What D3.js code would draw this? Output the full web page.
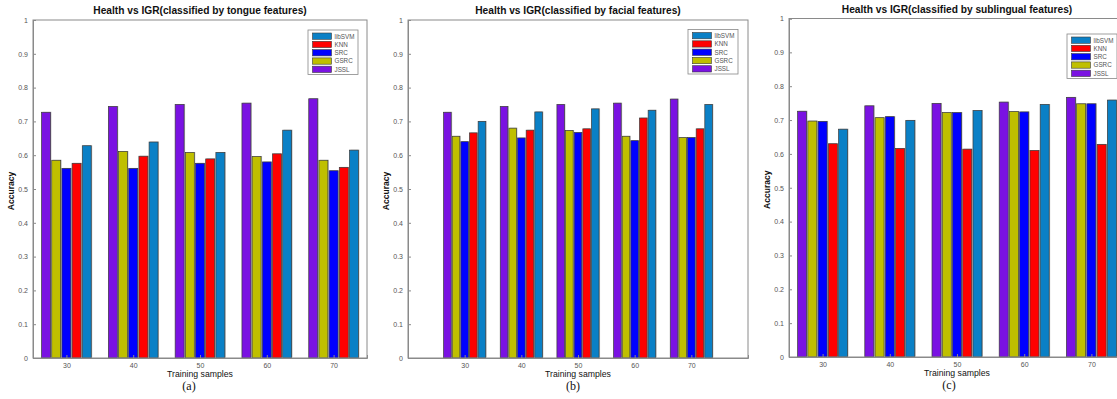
<!DOCTYPE html>
<html><head><meta charset="utf-8">
<script src="https://cdn.jsdelivr.net/npm/d3@7"></script>
<style>body{margin:0;background:#fff;overflow:hidden}svg{display:block}</style>
</head><body>
<svg id="chart" width="1117" height="399"></svg>
<script>
const samples = [30, 40, 50, 60, 70];
const legendOrder = ["libSVM", "KNN", "SRC", "GSRC", "JSSL"];
const barOrder = ["JSSL", "GSRC", "SRC", "KNN", "libSVM"];
const yTicks = [0, 0.1, 0.2, 0.3, 0.4, 0.5, 0.6, 0.7, 0.8, 0.9, 1];
const colors = { libSVM: "#0a80c6", KNN: "#ff0000", SRC: "#0000ff", GSRC: "#bfbf00", JSSL: "#7a12e2" };

// (a) tongue features
const tongueJSSL   = [0.727, 0.744, 0.750, 0.754, 0.767];
const tongueGSRC   = [0.585, 0.611, 0.608, 0.596, 0.585];
const tongueSRC    = [0.561, 0.561, 0.576, 0.580, 0.554];
const tongueKNN    = [0.576, 0.597, 0.589, 0.604, 0.564];
const tongueLibSVM = [0.628, 0.639, 0.608, 0.674, 0.615];
// (b) facial features
const facialJSSL   = [0.727, 0.744, 0.750, 0.754, 0.766];
const facialGSRC   = [0.656, 0.680, 0.673, 0.656, 0.652];
const facialSRC    = [0.640, 0.651, 0.667, 0.643, 0.652];
const facialKNN    = [0.666, 0.674, 0.678, 0.710, 0.678];
const facialLibSVM = [0.700, 0.728, 0.737, 0.733, 0.750];
// (c) sublingual features
const sublingJSSL   = [0.726, 0.742, 0.749, 0.753, 0.767];
const sublingGSRC   = [0.697, 0.707, 0.722, 0.725, 0.748];
const sublingSRC    = [0.696, 0.710, 0.722, 0.724, 0.748];
const sublingKNN    = [0.630, 0.616, 0.614, 0.610, 0.628];
const sublingLibSVM = [0.673, 0.699, 0.728, 0.746, 0.759];

const panels = [
  { title: "Health vs IGR(classified by tongue features)", tag: "(a)", tagShift: -11,
    left: 33, right: 367, top: 20, bottom: 358, xlim: [25, 75], legend: [308, 30],
    series: { JSSL: tongueJSSL, GSRC: tongueGSRC, SRC: tongueSRC, KNN: tongueKNN, libSVM: tongueLibSVM } },
  { title: "Health vs IGR(classified by facial features)", tag: "(b)", tagShift: -5,
    left: 408, right: 748, top: 20, bottom: 358, xlim: [20, 80], legend: [688, 29.5],
    series: { JSSL: facialJSSL, GSRC: facialGSRC, SRC: facialSRC, KNN: facialKNN, libSVM: facialLibSVM } },
  { title: "Health vs IGR(classified by sublingual features)", tag: "(c)", tagShift: -8,
    left: 789, right: 1125, top: 18.5, bottom: 357, xlim: [25, 75], legend: [1067, 34],
    series: { JSSL: sublingJSSL, GSRC: sublingGSRC, SRC: sublingSRC, KNN: sublingKNN, libSVM: sublingLibSVM } }
];

const svg = d3.select("#chart");
svg.append("rect").attr("width", 1117).attr("height", 399).attr("fill", "#fff");
const font = "Liberation Sans, Arial, sans-serif";
const axisColor = "#8a8a8a";

panels.forEach(p => {
  const g = svg.append("g");
  const x = d3.scaleLinear().domain(p.xlim).range([p.left, p.right]);
  const y = d3.scaleLinear().domain([0, 1]).range([p.bottom, p.top]);
  const inner = d3.scaleBand().domain(barOrder).range([-3.72, 3.72]).paddingInner(0.12);
  const unit = x(1) - x(0);

  barOrder.forEach(m => {
    p.series[m].forEach((v, i) => {
      const bx = x(samples[i]) + inner(m) * unit;
      const bw = inner.bandwidth() * unit;
      g.append("rect").attr("x", bx + 1).attr("y", y(v) - 0.5)
        .attr("width", bw).attr("height", y(0) - y(v))
        .attr("fill", "#c8c8c8");
      g.append("rect").attr("x", bx).attr("y", y(v))
        .attr("width", bw).attr("height", y(0) - y(v))
        .attr("fill", colors[m]).attr("stroke", "#3a3a3a").attr("stroke-width", 0.7);
    });
  });

  g.append("rect").attr("x", p.left).attr("y", p.top)
    .attr("width", p.right - p.left).attr("height", p.bottom - p.top)
    .attr("fill", "none").attr("stroke", axisColor).attr("stroke-width", 1);

  const ya = d3.axisLeft(y).tickValues(yTicks).tickSize(-3).tickPadding(5)
    .tickFormat(d => d === 0 || d === 1 ? d3.format("d")(d) : d3.format(".1f")(d));
  const yg = g.append("g").attr("transform", `translate(${p.left},0)`).call(ya);
  yg.select(".domain").attr("stroke", axisColor);
  yg.selectAll(".tick line").attr("stroke", axisColor);
  yg.selectAll("text").attr("font-family", font).attr("font-size", 7).attr("fill", "#555");

  const xa = d3.axisBottom(x).tickValues(samples).tickSize(-3).tickPadding(5).tickFormat(d3.format("d"));
  const xg = g.append("g").attr("transform", `translate(0,${p.bottom})`).call(xa);
  xg.select(".domain").attr("stroke", axisColor);
  xg.selectAll(".tick line").attr("stroke", axisColor);
  xg.selectAll("text").attr("font-family", font).attr("font-size", 7).attr("fill", "#555");

  const cx = x(50);
  g.append("text").attr("x", cx).attr("y", p.top - 6).attr("text-anchor", "middle")
    .attr("font-family", font).attr("font-weight", "bold").attr("font-size", 10.2).attr("fill", "#111")
    .text(p.title);
  g.append("text").attr("x", cx).attr("y", p.bottom + 18.5).attr("text-anchor", "middle")
    .attr("font-family", font).attr("font-size", 8.7).attr("fill", "#111").text("Training samples");
  g.append("text").attr("x", cx + p.tagShift).attr("y", p.bottom + 32).attr("text-anchor", "middle")
    .attr("font-family", "Liberation Serif, Times New Roman, serif").attr("font-size", 12).attr("fill", "#111").text(p.tag);
  g.append("text").attr("transform", `translate(${p.left - 19},${(p.top + p.bottom) / 2 + 2}) rotate(-90)`)
    .attr("text-anchor", "middle").attr("font-family", font).attr("font-size", 8.5).attr("font-weight", "bold")
    .attr("fill", "#111").text("Accuracy");

  const [lx, ly] = p.legend;
  const lg = g.append("g").attr("transform", `translate(${lx},${ly})`);
  lg.append("rect").attr("width", 50).attr("height", 44.5).attr("fill", "#fff")
    .attr("stroke", "#888").attr("stroke-width", 0.8);
  legendOrder.forEach((m, i) => {
    lg.append("rect").attr("x", 4.5).attr("y", 3 + i * 8.3).attr("width", 19).attr("height", 6.3)
      .attr("fill", colors[m]).attr("stroke", "#3a3a3a").attr("stroke-width", 0.6);
    lg.append("text").attr("x", 26.5).attr("y", 8.5 + i * 8.3).attr("font-family", font)
      .attr("font-size", 6.3).attr("fill", "#555").text(m);
  });
});
</script>
</body></html>
